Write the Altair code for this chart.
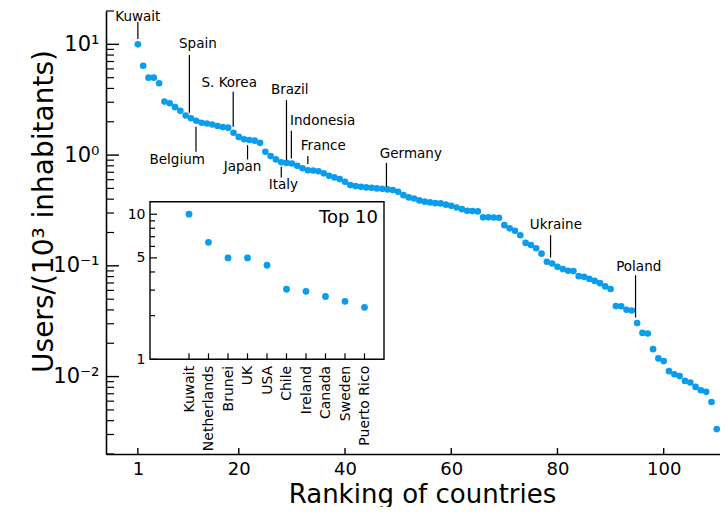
import altair as alt
import pandas as pd

# ---------------- data ----------------
ranks = list(range(1, 111))
values = [
    10.0, 6.4, 5.0, 5.0, 4.45, 3.04, 2.94, 2.71, 2.51, 2.28,
    2.15, 2.04, 1.96, 1.93, 1.89, 1.83, 1.79, 1.77, 1.59, 1.46,
    1.39, 1.37, 1.35, 1.29, 1.07, 0.98, 0.914, 0.86, 0.85, 0.84,
    0.80, 0.76, 0.73, 0.725, 0.715, 0.684, 0.650, 0.629, 0.607, 0.574,
    0.536, 0.525, 0.517, 0.511, 0.507, 0.500, 0.496, 0.490, 0.483, 0.466,
    0.435, 0.415, 0.406, 0.390, 0.380, 0.374, 0.368, 0.366, 0.357, 0.348,
    0.336, 0.325, 0.314, 0.312, 0.310, 0.274, 0.274, 0.273, 0.272, 0.233,
    0.218, 0.207, 0.189, 0.161, 0.154, 0.144, 0.129, 0.109, 0.105, 0.098,
    0.0934, 0.0902, 0.0896, 0.0807, 0.0796, 0.0762, 0.0731, 0.0698, 0.0652, 0.0618,
    0.0433, 0.0432, 0.0401, 0.0395, 0.0305, 0.0248, 0.0245, 0.0177, 0.0146, 0.0138,
    0.0112, 0.0105, 0.0101, 0.00914, 0.00885, 0.00807, 0.00753, 0.00728, 0.0059, 0.00335,
]

top10_names = ["Kuwait", "Netherlands", "Brunei", "UK", "USA", "Chile",
               "Ireland", "Canada", "Sweden", "Puerto Rico"]
top10_pos = list(range(1, 11))
top10_values = [10.0, 6.4, 5.0, 5.0, 4.45, 3.04, 2.94, 2.71, 2.51, 2.28]

ann_names = ["Kuwait", "Spain", "S. Korea", "Brazil", "Indonesia", "France",
             "Germany", "Ukraine", "Poland", "Belgium", "Japan", "Italy"]
ann_text_x = [1.0, 12.3, 18.2, 29.6, 35.8, 35.9, 52.4, 79.7, 95.3, 8.4, 20.7, 28.4]
ann_text_y = [17.8, 10.0, 4.44, 3.87, 2.04, 1.21, 1.02, 0.233, 0.098, 0.90, 0.784, 0.536]
ann_line_x = [1.0, 10.7, 18.95, 28.98, 29.9, 33.0, 47.8, 78.7, 94.7, 11.94, 21.65, 28.0]
ann_line_top = [15.9, 8.0, 3.73, 3.14, 1.66, 0.98, 0.852, 0.189, 0.0824, 1.80, 1.23, 0.784]
ann_line_bottom = [11.2, 2.41, 1.80, 0.90, 0.93, 0.83, 0.517, 0.119, 0.0342, 1.07, 0.914, 0.629]

y_major_ticks = [0.01, 0.1, 1, 10]
y_minor_ticks = [0.002, 0.003, 0.004, 0.005, 0.006, 0.007, 0.008, 0.009,
                 0.02, 0.03, 0.04, 0.05, 0.06, 0.07, 0.08, 0.09,
                 0.2, 0.3, 0.4, 0.5, 0.6, 0.7, 0.8, 0.9,
                 2, 3, 4, 5, 6, 7, 8, 9, 20]
x_ticks = [1, 20, 40, 60, 80, 100]

inset_y_major = [1, 5, 10]
inset_y_minor = [2, 3, 4, 6, 7, 8, 9]
inset_frame_x = [-1]
inset_frame_x2 = [11]
inset_frame_y = [1]
inset_frame_y2 = [12.2]
inset_title = ["Top 10"]
inset_title_x = [10.69]
inset_title_y = [9.4]

# ---------------- styling ----------------
BLUE = "#0a9ded"
W, H = 614, 443
FONT = "DejaVu Sans"

main_df = pd.DataFrame({"rank": ranks, "value": values})
ann_df = pd.DataFrame({"name": ann_names, "tx": ann_text_x, "ty": ann_text_y,
                       "lx": ann_line_x, "ly1": ann_line_top, "ly2": ann_line_bottom})
inset_df = pd.DataFrame({"pos": top10_pos, "value": top10_values, "name": top10_names})


def xs():
    return alt.Scale(domain=[-5, 110.6], range=[0, W], nice=False, zero=False)


def ys():
    return alt.Scale(type="log", domain=[0.002, 20], range=[H, 0], nice=False)


y_label_expr = ("datum.value == 10 ? '10\u00b9' : datum.value == 1 ? '10\u2070' : "
                "datum.value == 0.1 ? '10\u207b\u00b9' : '10\u207b\u00b2'")

points = alt.Chart(main_df).mark_circle(size=44, color=BLUE, opacity=1).encode(
    x=alt.X("rank:Q", scale=xs(), axis=alt.Axis(
        orient="bottom", values=x_ticks, labelExpr="'' + datum.value",
        labelFontSize=18, labelPadding=6, labelColor="black",
        ticks=False, tickSize=0, grid=False, labelOverlap=False,
        domainColor="black", domainWidth=1.6,
        title="Ranking of countries", titleFontSize=26, titleFontWeight="normal",
        titleColor="black", titleX=316, titleY=48, titleBaseline="alphabetic",
        titleAlign="center")),
    y=alt.Y("value:Q", scale=ys(), axis=alt.Axis(
        orient="left", values=y_major_ticks, labelExpr=y_label_expr,
        labelFontSize=21, labelPadding=7, labelColor="black",
        ticks=False, tickSize=0, grid=False, labelOverlap=False,
        domainColor="black", domainWidth=1.6,
        title="Users/(10\u00b3 inhabitants)", titleFontSize=28, titleFontWeight="normal",
        titleColor="black", titleX=-54, titleY=200, titleAngle=270,
        titleBaseline="alphabetic", titleAlign="center")),
)

ann_lines = alt.Chart(ann_df).mark_rule(color="black", strokeWidth=1.2).encode(
    x=alt.X("lx:Q", scale=xs(), axis=None),
    y=alt.Y("ly1:Q", scale=ys(), axis=None),
    y2="ly2:Q",
)
ann_text = alt.Chart(ann_df).mark_text(fontSize=13.5, align="center", baseline="middle",
                                       color="black").encode(
    x=alt.X("tx:Q", scale=xs(), axis=None),
    y=alt.Y("ty:Q", scale=ys(), axis=None),
    text="name:N",
)
y_major = alt.Chart(pd.DataFrame({"t": y_major_ticks})).mark_rule(
    color="black", strokeWidth=1.4).encode(
    y=alt.Y("t:Q", scale=ys(), axis=None), x=alt.value(0), x2=alt.value(13))
y_minor = alt.Chart(pd.DataFrame({"t": y_minor_ticks})).mark_rule(
    color="black", strokeWidth=1.2).encode(
    y=alt.Y("t:Q", scale=ys(), axis=None), x=alt.value(0), x2=alt.value(8))
x_major = alt.Chart(pd.DataFrame({"t": x_ticks})).mark_rule(
    color="black", strokeWidth=1.4).encode(
    x=alt.X("t:Q", scale=xs(), axis=None), y=alt.value(H), y2=alt.value(H - 6))

# ---------------- inset ----------------
IX0, IX1 = 44, 278
IY0, IY1 = 348.3, 190.7


def ixs():
    return alt.Scale(domain=[-1, 11], range=[IX0, IX1], nice=False, zero=False)


def iys():
    return alt.Scale(type="log", domain=[1, 12.2], range=[IY0, IY1], nice=False)


names_js = "[" + ",".join("'" + n + "'" for n in top10_names) + "]"

frame = alt.Chart(pd.DataFrame({"x0": inset_frame_x, "x1": inset_frame_x2,
                                "y0": inset_frame_y, "y1": inset_frame_y2})).mark_rect(
    fill="white", stroke="black", strokeWidth=1.4).encode(
    x=alt.X("x0:Q", scale=ixs(), axis=None), x2="x1:Q",
    y=alt.Y("y0:Q", scale=iys(), axis=None), y2="y1:Q")

ipoints = alt.Chart(inset_df).mark_circle(size=46, color=BLUE, opacity=1).encode(
    x=alt.X("pos:Q", scale=ixs(), axis=alt.Axis(
        orient="bottom", offset=-(H - IY0), values=top10_pos,
        labelExpr=names_js + "[datum.value - 1]", labelAngle=270,
        labelFontSize=14, labelPadding=6, labelColor="black", labelOverlap=False,
        domain=False, ticks=False, tickSize=0, grid=False, title="", zindex=1)),
    y=alt.Y("value:Q", scale=iys(), axis=alt.Axis(
        orient="left", offset=-IX0, values=inset_y_major,
        labelExpr="'' + datum.value", labelFontSize=14, labelPadding=5,
        labelColor="black", labelOverlap=False,
        domain=False, ticks=False, tickSize=0, grid=False, title="", zindex=1)),
)

ix_ticks = alt.Chart(inset_df).mark_rule(color="black", strokeWidth=1.2).encode(
    x=alt.X("pos:Q", scale=ixs(), axis=None), y=alt.value(IY0), y2=alt.value(IY0 - 6))
iy_major = alt.Chart(pd.DataFrame({"t": inset_y_major})).mark_rule(
    color="black", strokeWidth=1.2).encode(
    y=alt.Y("t:Q", scale=iys(), axis=None), x=alt.value(IX0), x2=alt.value(IX0 + 7))
iy_minor = alt.Chart(pd.DataFrame({"t": inset_y_minor})).mark_rule(
    color="black", strokeWidth=1.2).encode(
    y=alt.Y("t:Q", scale=iys(), axis=None), x=alt.value(IX0), x2=alt.value(IX0 + 5))
ititle = alt.Chart(pd.DataFrame({"label": inset_title, "tx": inset_title_x,
                                 "ty": inset_title_y})).mark_text(
    fontSize=18, align="right", baseline="middle", color="black").encode(
    x=alt.X("tx:Q", scale=ixs(), axis=None),
    y=alt.Y("ty:Q", scale=iys(), axis=None),
    text="label:N")

chart = alt.layer(
    points, ann_lines, ann_text, y_major, y_minor, x_major,
    frame, ipoints, ix_ticks, iy_major, iy_minor, ititle,
).resolve_scale(
    x="independent", y="independent"
).resolve_axis(
    x="independent", y="independent"
).properties(
    width=W, height=H,
    autosize=alt.AutoSizeParams(type="none"),
    padding={"left": 98, "top": 3, "right": 0, "bottom": 53},
).configure(font=FONT).configure_view(stroke=None)

chart.save("out.html", embed_options={"renderer": "svg", "actions": False})
